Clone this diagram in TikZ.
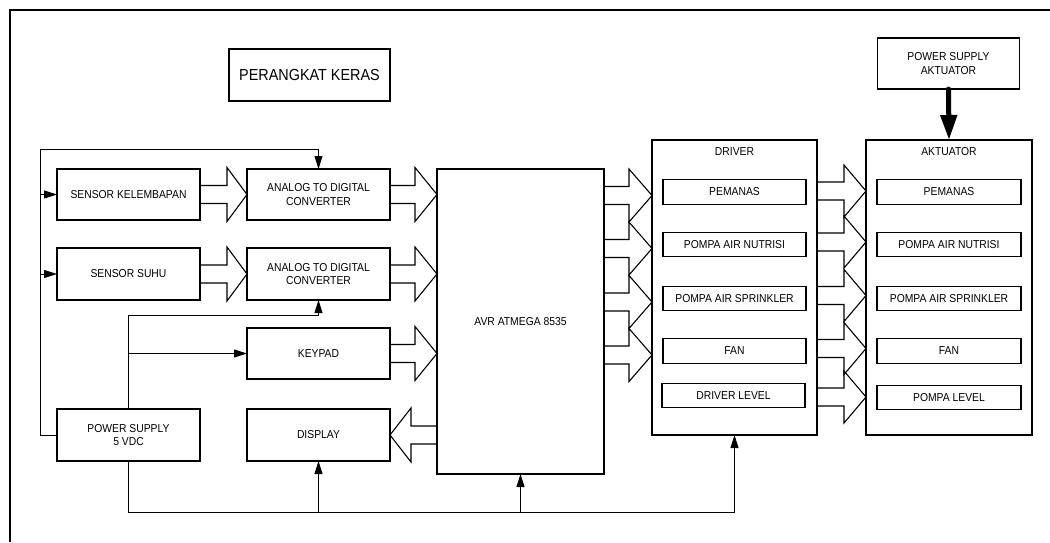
\documentclass[tikz,border=0pt]{standalone}
\usepackage{fontspec}
\setmainfont{Liberation Sans}[FakeStretch=0.9]
\usetikzlibrary{arrows.meta}

% hollow block arrow pointing right: from node, to node, centre y, head base x, head half height
\newcommand\blockR[5]{%
  \draw[hollow] (#1.east |- 0,#3-9) -- (#4,#3-9) -- (#4,#3-#5) -- (#2.west |- 0,#3)
    -- (#4,#3+#5) -- (#4,#3+9) -- (#1.east |- 0,#3+9);}
% hollow block arrow pointing left
\newcommand\blockL[5]{%
  \draw[hollow] (#1.west |- 0,#3-9) -- (#4,#3-9) -- (#4,#3-#5) -- (#2.east |- 0,#3)
    -- (#4,#3+#5) -- (#4,#3+9) -- (#1.west |- 0,#3+9);}

\begin{document}
\begin{tikzpicture}[x=1pt,y=-1pt,
  box/.style={draw,line width=1.1pt,inner sep=0pt,outer sep=0pt,align=center,
    font=\fontsize{11.5}{13.3}\selectfont},
  lbl/.style={inner sep=0pt,outer sep=0pt,font=\fontsize{11.5}{13.3}\selectfont},
  wire/.style={line width=1pt},
  tip/.style={-{Triangle[length=13pt,width=8pt]}},
  hollow/.style={line width=1.1pt,line join=miter}]
\useasboundingbox (0,0) rectangle (1050,542);

% outer frame
\draw[line width=1.5pt] (10,542) -- (10,10) -- (1050,10);

% title
\node[box,minimum width=161pt,minimum height=52pt,font=\fontsize{16}{18}\selectfont]
  (title) at (309.5,75) {PERANGKAT KERAS};

% left column
\node[box,minimum width=143pt,minimum height=51pt] (sk) at (128.5,194.5) {SENSOR KELEMBAPAN};
\node[box,minimum width=143pt,minimum height=52pt] (ss) at (128.5,274) {SENSOR SUHU};
\node[box,minimum width=143pt,minimum height=52pt] (ps) at (128.5,435) {POWER SUPPLY\\5 VDC};

% second column
\node[box,minimum width=143pt,minimum height=51pt] (adc1) at (318.5,194.5) {ANALOG TO DIGITAL\\CONVERTER};
\node[box,minimum width=143pt,minimum height=52pt] (adc2) at (318.5,274) {ANALOG TO DIGITAL\\CONVERTER};
\node[box,minimum width=143pt,minimum height=51pt] (kp) at (318.5,353.5) {KEYPAD};
\node[box,minimum width=143pt,minimum height=52pt] (disp) at (318.5,435) {DISPLAY};

% microcontroller
\node[box,minimum width=167pt,minimum height=305pt] (avr) at (520.5,321.5) {AVR ATMEGA 8535};

% driver block
\node[box,minimum width=165pt,minimum height=295pt] (drv) at (734.5,287.5) {};
\node[lbl] (drvl) at (734.5,152) {DRIVER};
\node[box,minimum width=143pt,minimum height=24.5pt] (dpem) at (734.5,192) {PEMANAS};
\node[box,minimum width=143pt,minimum height=24.5pt] (dnut) at (734.5,244.5) {POMPA AIR NUTRISI};
\node[box,minimum width=143pt,minimum height=24.5pt] (dspr) at (734.5,298.5) {POMPA AIR SPRINKLER};
\node[box,minimum width=143pt,minimum height=24.5pt] (dfan) at (734.5,351) {FAN};
\node[box,minimum width=143pt,minimum height=24.5pt] (dlev) at (733.5,395.5) {DRIVER LEVEL};

% actuator block
\node[box,minimum width=166pt,minimum height=295pt] (akt) at (949,287.5) {};
\node[lbl] (aktl) at (949,152) {AKTUATOR};
\node[box,minimum width=144pt,minimum height=24.5pt] (apem) at (949,192) {PEMANAS};
\node[box,minimum width=144pt,minimum height=24.5pt] (anut) at (949,244.5) {POMPA AIR NUTRISI};
\node[box,minimum width=144pt,minimum height=24.5pt] (aspr) at (949,298.5) {POMPA AIR SPRINKLER};
\node[box,minimum width=144pt,minimum height=24.5pt] (afan) at (949,351) {FAN};
\node[box,minimum width=144pt,minimum height=24.5pt] (alev) at (949,397.5) {POMPA LEVEL};

% actuator supply
\node[box,minimum width=142pt,minimum height=51pt] (psa) at (948.5,63.5) {POWER SUPPLY\\AKTUATOR};
\draw[line width=5pt,line cap=round,-{Triangle[length=25pt,width=16pt]}] (psa.south) -- (akt.north);

% data paths (hollow block arrows)
\blockR{sk}{adc1}{194.5}{227}{27}
\blockR{ss}{adc2}{274}{227}{27}
\blockR{adc1}{avr}{194.5}{415}{27}
\blockR{adc2}{avr}{274}{415}{27}
\blockR{kp}{avr}{353.5}{415}{27}
\blockL{avr}{disp}{435}{411}{27}
\blockR{avr}{drv}{195.5}{629}{26.5}
\blockR{avr}{drv}{248.5}{629}{26.5}
\blockR{avr}{drv}{302}{629}{26.5}
\blockR{avr}{drv}{355}{629}{26.5}
\blockR{drv}{akt}{191}{844}{26}
\blockR{drv}{akt}{242}{844}{26}
\blockR{drv}{akt}{295.5}{844}{26}
\blockR{drv}{akt}{348.5}{844}{26}
\blockR{drv}{akt}{397}{844}{26}

% 5 V supply wiring
\coordinate (fb) at (40,149);
\coordinate (pv) at (128.5,315);
\coordinate (gb) at (128.5,512);
\draw[wire,tip] (ps.west) -| (fb) -| (adc1.north);
\draw[wire,tip] (sk.west -| fb) -- (sk.west);
\draw[wire,tip] (ss.west -| fb) -- (ss.west);
\draw[wire,tip] (ps.north) -- (pv) -| (adc2.south);
\draw[wire,tip] (kp.west -| ps.north) -- (kp.west);
\draw[wire,tip] (ps.south) |- (drv.south |- gb) -- (drv.south);
\draw[wire,tip] (disp.south |- gb) -- (disp.south);
\draw[wire,tip] (avr.south |- gb) -- (avr.south);
\end{tikzpicture}
\end{document}
